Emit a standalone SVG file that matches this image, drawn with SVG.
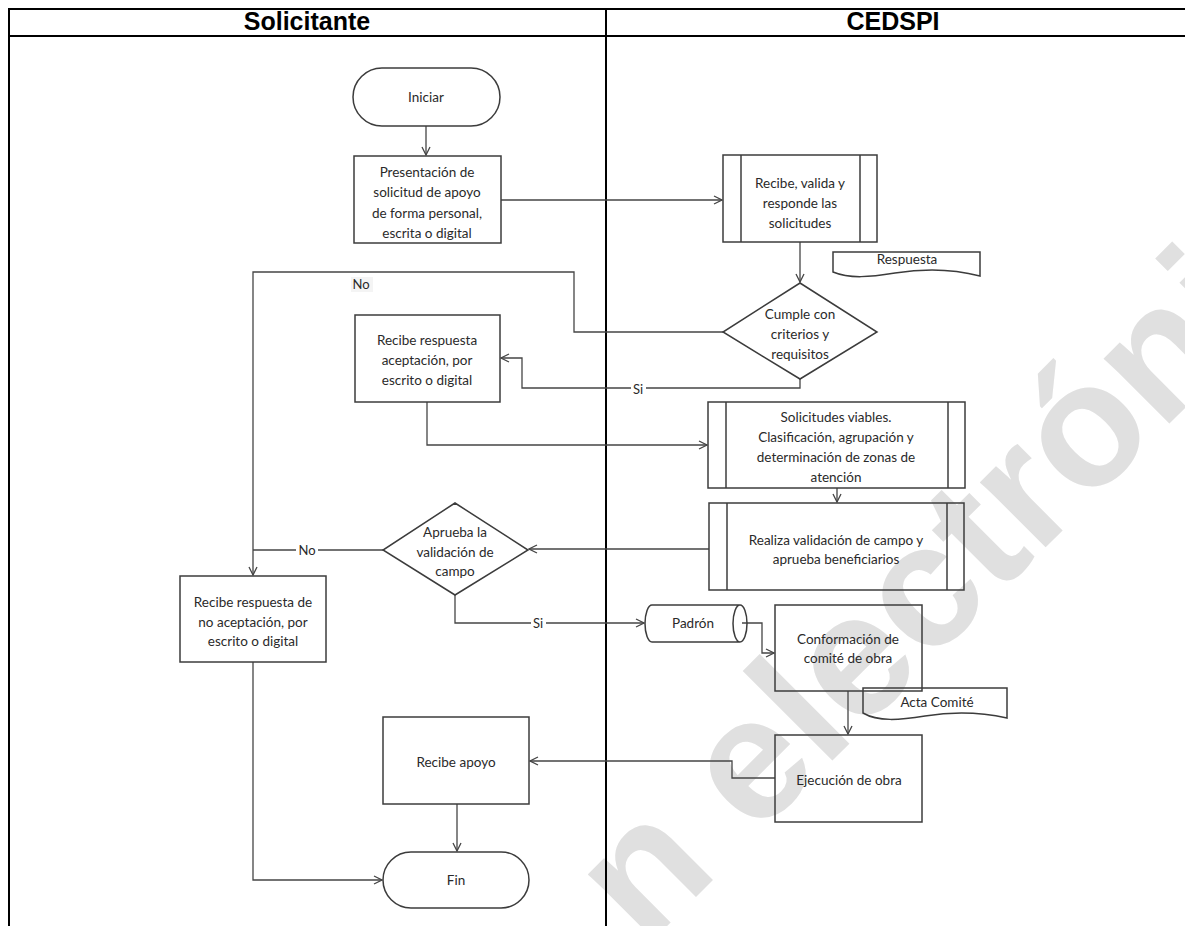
<svg xmlns="http://www.w3.org/2000/svg" width="1185" height="926" viewBox="0 0 1185 926">
<style>
.lane{stroke:#000;stroke-width:2;fill:none}
.hdr{font-family:"Liberation Sans",Arial,sans-serif;font-weight:bold;font-size:25px;fill:#000;text-anchor:middle}
.shape{fill:none;stroke:#3c3c3c;stroke-width:1.5}
.conn{fill:none;stroke:#454545;stroke-width:1.3}
.t{font-family:Lato,"Liberation Sans",sans-serif;font-size:13.5px;fill:#2a2a2a;text-anchor:middle}
.lbl{font-family:Lato,"Liberation Sans",sans-serif;font-size:13px;fill:#2a2a2a;text-anchor:middle}
.wm{font-family:"Liberation Sans",Arial,sans-serif;font-weight:bold;font-size:175px;fill:#e0e0e0}
</style>
<defs>
<marker id="arr" markerWidth="10" markerHeight="10" refX="9" refY="5" orient="auto" markerUnits="userSpaceOnUse">
<path d="M1,1 L9,5 L1,9" fill="none" stroke="#454545" stroke-width="1.3"/>
</marker>
</defs>
<rect width="1185" height="926" fill="#fff"/>
<text class="wm" transform="translate(645,948) rotate(-45)">n electrónica</text>
<g id="lanes">
<line class="lane" x1="8" y1="9" x2="1185" y2="9"/>
<line class="lane" x1="8" y1="36" x2="1185" y2="36"/>
<line class="lane" x1="9" y1="8" x2="9" y2="926"/>
<line class="lane" x1="606" y1="8" x2="606" y2="926"/>
<text class="hdr" x="307" y="30">Solicitante</text>
<text class="hdr" x="893" y="30">CEDSPI</text>
</g>
<g id="connectors">
<path class="conn" d="M426,126 V155" marker-end="url(#arr)"/>
<path class="conn" d="M501,200 H722" marker-end="url(#arr)"/>
<path class="conn" d="M800,242 V282" marker-end="url(#arr)"/>
<path class="conn" d="M723,332 H574 V272 H253 V575" marker-end="url(#arr)"/>
<path class="conn" d="M800,379 V388 H522 V358 H501" marker-end="url(#arr)"/>
<path class="conn" d="M427,402 V445 H707" marker-end="url(#arr)"/>
<path class="conn" d="M837,488 V502" marker-end="url(#arr)"/>
<path class="conn" d="M709,549 H529" marker-end="url(#arr)"/>
<path class="conn" d="M383,550 H253"/>
<path class="conn" d="M455,595 V623 H644" marker-end="url(#arr)"/>
<path class="conn" d="M742,623 H762 V653 H774" marker-end="url(#arr)"/>
<path class="conn" d="M848,691 V734" marker-end="url(#arr)"/>
<path class="conn" d="M775,778 H732 V761 H530" marker-end="url(#arr)"/>
<path class="conn" d="M457,804 V851" marker-end="url(#arr)"/>
<path class="conn" d="M253,662 V880 H382" marker-end="url(#arr)"/>
<rect x="351" y="277" width="22" height="15" fill="#f4f4f4"/>
<text class="lbl" x="361" y="289">No</text>
<rect x="631" y="382" width="15" height="14" fill="#fff"/>
<text class="lbl" x="638" y="394">Si</text>
<rect x="296" y="543" width="22" height="14" fill="#fff"/>
<text class="lbl" x="307" y="555">No</text>
<rect x="531" y="616" width="15" height="14" fill="#fff"/>
<text class="lbl" x="538" y="628">Si</text>
</g>
<g id="iniciar">
<rect class="shape" x="353" y="68" width="147" height="58" rx="29"/>
<text class="t" x="426" y="102">Iniciar</text>
</g>
<g id="presentacion">
<rect class="shape" x="354" y="156" width="147" height="87"/>
<text class="t" x="427" y="177">Presentación de</text>
<text class="t" x="427" y="197">solicitud de apoyo</text>
<text class="t" x="427" y="218">de forma personal,</text>
<text class="t" x="427" y="238">escrita o digital</text>
</g>
<g id="recibe-valida">
<rect class="shape" x="723" y="155" width="154" height="87"/>
<line class="shape" x1="741" y1="155" x2="741" y2="242"/>
<line class="shape" x1="860" y1="155" x2="860" y2="242"/>
<text class="t" x="800" y="188">Recibe, valida y</text>
<text class="t" x="800" y="208">responde las</text>
<text class="t" x="800" y="228">solicitudes</text>
</g>
<g id="respuesta">
<path class="shape" d="M833,252 H980 V276 C950,268 920,269 895,273 C870,277 850,279 833,272 Z"/>
<text class="t" x="907" y="264">Respuesta</text>
</g>
<g id="cumple">
<polygon class="shape" points="800,283 877,332 800,379 723,332"/>
<text class="t" x="800" y="319">Cumple con</text>
<text class="t" x="800" y="339">criterios y</text>
<text class="t" x="800" y="359">requisitos</text>
</g>
<g id="recibe-aceptacion">
<rect class="shape" x="355" y="315" width="145" height="87"/>
<text class="t" x="427" y="345">Recibe respuesta</text>
<text class="t" x="427" y="365">aceptación, por</text>
<text class="t" x="427" y="385">escrito o digital</text>
</g>
<g id="solicitudes-viables">
<rect class="shape" x="708" y="402" width="257" height="86"/>
<line class="shape" x1="726" y1="402" x2="726" y2="488"/>
<line class="shape" x1="948" y1="402" x2="948" y2="488"/>
<text class="t" x="836" y="422">Solicitudes viables.</text>
<text class="t" x="836" y="442">Clasificación, agrupación y</text>
<text class="t" x="836" y="462">determinación de zonas de</text>
<text class="t" x="836" y="482">atención</text>
</g>
<g id="realiza">
<rect class="shape" x="709" y="503" width="255" height="87"/>
<line class="shape" x1="727" y1="503" x2="727" y2="590"/>
<line class="shape" x1="947" y1="503" x2="947" y2="590"/>
<text class="t" x="836" y="545">Realiza validación de campo y</text>
<text class="t" x="836" y="564">aprueba beneficiarios</text>
</g>
<g id="aprueba">
<polygon class="shape" points="455,503 528,550 455,595 383,550"/>
<text class="t" x="455" y="537">Aprueba la</text>
<text class="t" x="455" y="557">validación de</text>
<text class="t" x="455" y="576">campo</text>
</g>
<g id="recibe-no-aceptacion">
<rect class="shape" x="180" y="576" width="146" height="86"/>
<text class="t" x="253" y="607">Recibe respuesta de</text>
<text class="t" x="253" y="627">no aceptación, por</text>
<text class="t" x="253" y="646">escrito o digital</text>
</g>
<g id="padron">
<path class="shape" d="M652,605 H740 A7,18.5 0 0 1 740,642 H652 A7,18.5 0 0 1 652,605 Z M740,605 A7,18.5 0 0 0 740,642"/>
<text class="t" x="693" y="628">Padrón</text>
</g>
<g id="conformacion">
<rect class="shape" x="775" y="605" width="147" height="86"/>
<text class="t" x="848" y="644">Conformación de</text>
<text class="t" x="848" y="663">comité de obra</text>
</g>
<g id="acta">
<path class="shape" d="M863,688 H1007 V718 C980,712 950,712 925,716 C900,720 878,722 863,713 Z"/>
<text class="t" x="937" y="707">Acta Comité</text>
</g>
<g id="ejecucion">
<rect class="shape" x="775" y="735" width="147" height="87"/>
<text class="t" x="849" y="785">Ejecución de obra</text>
</g>
<g id="recibe-apoyo">
<rect class="shape" x="383" y="717" width="146" height="87"/>
<text class="t" x="456" y="767">Recibe apoyo</text>
</g>
<g id="fin">
<rect class="shape" x="383" y="852" width="146" height="56" rx="28"/>
<text class="t" x="456" y="885">Fin</text>
</g>
</svg>
